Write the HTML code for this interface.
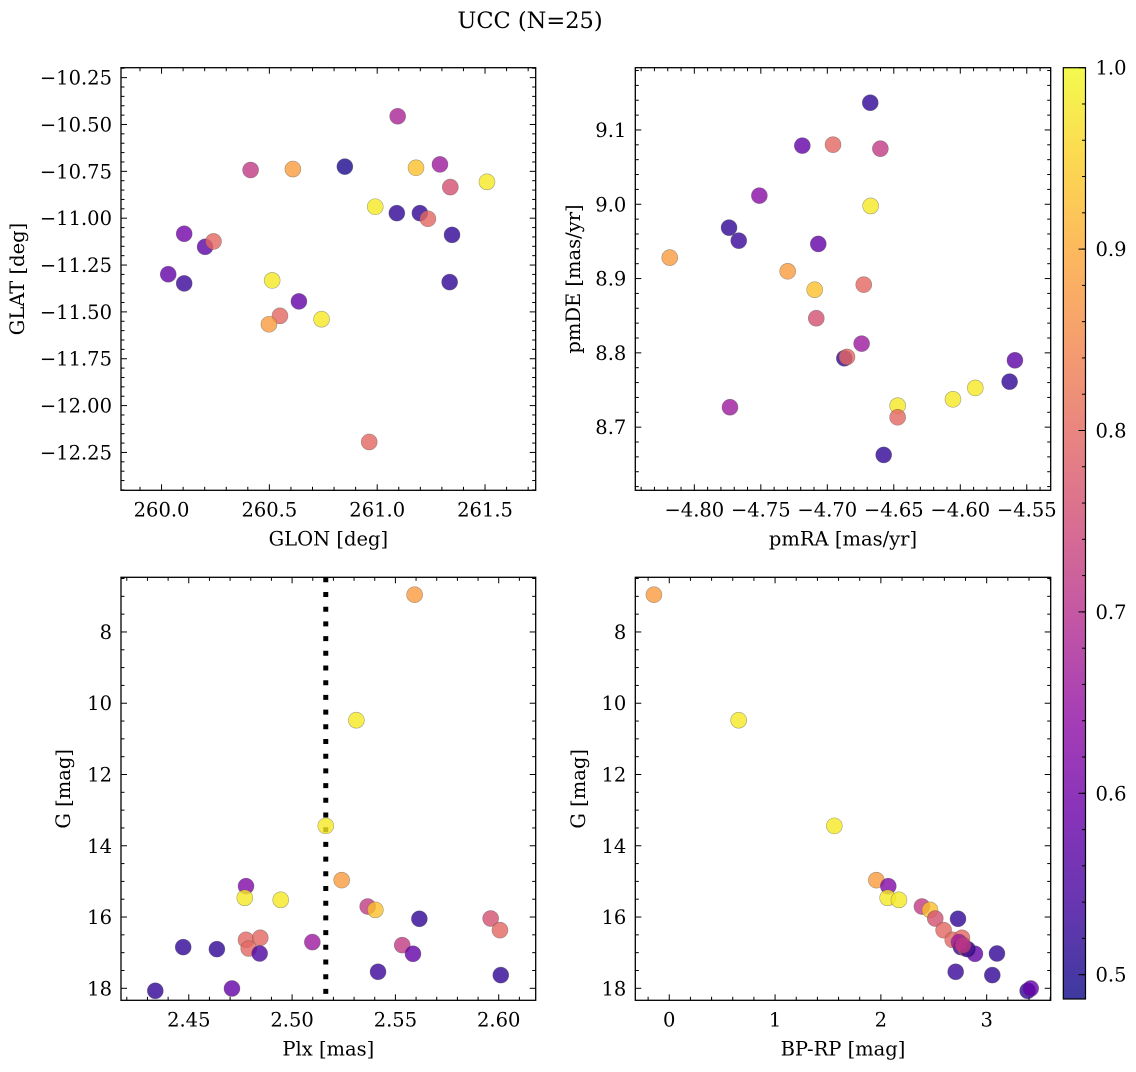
<!DOCTYPE html>
<html><head><meta charset="utf-8"><style>
html,body{margin:0;padding:0;background:#fff;}
svg text{font-family:"DejaVu Serif","Liberation Serif",serif;fill:#000;}
</style></head><body>
<svg id="fig" width="1136" height="1067" viewBox="0 0 1136 1067" xmlns="http://www.w3.org/2000/svg">
<defs>
<linearGradient id="plasma" x1="0" y1="1" x2="0" y2="0">
<stop offset="0" stop-color="#0d0887"/><stop offset="0.1" stop-color="#41049d"/><stop offset="0.2" stop-color="#6a00a8"/><stop offset="0.3" stop-color="#8f0da4"/><stop offset="0.4" stop-color="#b12a90"/><stop offset="0.5" stop-color="#cc4778"/><stop offset="0.6" stop-color="#e16462"/><stop offset="0.7" stop-color="#f2844b"/><stop offset="0.8" stop-color="#fca636"/><stop offset="0.9" stop-color="#fcce25"/><stop offset="1" stop-color="#f0f921"/>
</linearGradient>
</defs>
<text x="530" y="28" font-size="22.5" text-anchor="middle">UCC (N=25)</text>
</svg>
<script>
// Panel 1: GLON vs GLAT
const glon = [261.095,260.413,260.609,260.850,261.180,261.291,261.339,261.509,260.991,261.091,261.198,261.235,261.347,261.336,260.105,260.202,260.241,260.031,260.105,260.513,260.637,260.549,260.498,260.742,260.963];
const glat = [-10.456,-10.743,-10.738,-10.725,-10.731,-10.713,-10.834,-10.806,-10.939,-10.973,-10.973,-11.003,-11.089,-11.341,-11.083,-11.153,-11.124,-11.299,-11.348,-11.332,-11.444,-11.521,-11.566,-11.539,-12.194];
const c1 = [0.68,0.72,0.88,0.50,0.93,0.66,0.76,0.98,0.98,0.52,0.52,0.80,0.52,0.52,0.60,0.57,0.80,0.58,0.53,0.98,0.58,0.80,0.88,0.98,0.80];
// Panel 2: pmRA vs pmDE
const pmra = [-4.6677,-4.7188,-4.6957,-4.6601,-4.7511,-4.6674,-4.7739,-4.7666,-4.7068,-4.8185,-4.7298,-4.7095,-4.6726,-4.7083,-4.6742,-4.6872,-4.6852,-4.5589,-4.5629,-4.5887,-4.6055,-4.6471,-4.6471,-4.7732,-4.6576];
const pmde = [9.1367,9.0789,9.0802,9.0748,9.0116,8.9977,8.9685,8.951,8.9466,8.9282,8.9098,8.885,8.8918,8.8466,8.8124,8.7927,8.7945,8.79,8.7612,8.7528,8.7375,8.7289,8.7133,8.7268,8.6626];
const c2 = [0.52,0.58,0.80,0.72,0.63,0.98,0.52,0.53,0.58,0.88,0.88,0.93,0.80,0.76,0.66,0.52,0.80,0.57,0.52,0.98,0.98,0.98,0.80,0.66,0.52];
// Panel 3: Plx vs G
const plx = [2.5593,2.5311,2.5163,2.5240,2.4777,2.4771,2.4945,2.5366,2.5403,2.5616,2.5961,2.6006,2.4473,2.4636,2.4777,2.4846,2.4790,2.4843,2.5098,2.5533,2.5585,2.5416,2.6010,2.4338,2.4709];
const gmag = [6.954,10.477,13.442,14.965,15.134,15.461,15.518,15.705,15.798,16.05,16.042,16.369,16.845,16.901,16.64,16.583,16.883,17.023,16.704,16.789,17.032,17.537,17.63,18.07,18.005];
const c3 = [0.88,0.98,0.98,0.88,0.62,0.98,0.98,0.72,0.93,0.52,0.76,0.80,0.52,0.52,0.80,0.80,0.80,0.55,0.66,0.72,0.58,0.53,0.52,0.52,0.58];
const plxLine = [2.5163];
// Panel 4: BP-RP vs G
const bprp = [-0.145,0.656,1.560,1.957,2.070,2.064,2.171,2.388,2.464,2.729,2.514,2.593,2.707,3.053,3.097,2.889,2.679,2.766,2.757,2.801,2.820,2.738,2.776,3.387,3.416];
const gmag4 = [6.954,10.477,13.442,14.965,15.134,15.461,15.518,15.705,15.798,16.05,16.042,16.369,17.537,17.63,17.023,17.032,16.64,16.583,16.845,16.883,16.901,16.704,16.789,18.07,18.005];
const c4 = [0.88,0.98,0.98,0.88,0.62,0.98,0.98,0.72,0.93,0.52,0.76,0.80,0.53,0.52,0.52,0.58,0.80,0.80,0.52,0.80,0.52,0.66,0.72,0.52,0.58];
// colorbar
const cbTicks = [0.5,0.6,0.7,0.8,0.9,1.0];
const cMin = 0.4866, cMax = 1.0;

const NS = "http://www.w3.org/2000/svg";
const svg = document.getElementById('fig');
const stops = [[13,8,135],[65,4,157],[106,0,168],[143,13,164],[177,42,144],[204,71,120],[225,100,98],[242,132,75],[252,166,54],[252,206,37],[240,249,33]];
function plasma(v){
  let t = (v - cMin)/(cMax - cMin); t = Math.max(0, Math.min(1, t));
  const f = t*10, i = Math.min(9, Math.floor(f)), u = f - i;
  const a = stops[i], b = stops[i+1];
  return 'rgb(' + [0,1,2].map(k => Math.round(a[k] + (b[k]-a[k])*u)).join(',') + ')';
}
function mk(tag, attrs, parent){
  const e = document.createElementNS(NS, tag);
  for (const k in attrs) e.setAttribute(k, attrs[k]);
  (parent || svg).appendChild(e);
  return e;
}
function fmt(v, d){ const s = Math.abs(v).toFixed(d); return (v < -1e-9 ? '\u2212' : '') + s; }

function panel(cfg){
  const g = mk('g', {});
  
  
  const {x0,x1,y0,y1,xmin,xmax,ymin,ymax} = cfg;
  const sx = v => x0 + (v - xmin)/(xmax - xmin)*(x1 - x0);
  const sy = cfg.invert ? (v => y0 + (v - ymin)/(ymax - ymin)*(y1 - y0)) : (v => y1 - (v - ymin)/(ymax - ymin)*(y1 - y0));
  const tg = mk('g', {stroke:'#000','stroke-width':1}, g);
  const nMinX = Math.ceil(xmin/cfg.xminor - 1e-6), nMaxX = Math.floor(xmax/cfg.xminor + 1e-6);
  for (let n = nMinX; n <= nMaxX; n++){
    const v = n*cfg.xminor; const px = sx(v);
    const major = Math.abs(v/cfg.xmajor - Math.round(v/cfg.xmajor)) < 1e-6;
    const L = major ? 6 : 3.5;
    mk('line', {x1:px, x2:px, y1:y1, y2:y1-L}, tg);
    mk('line', {x1:px, x2:px, y1:y0, y2:y0+L}, tg);
    if (major){
      const t = mk('text', {x:px, y:y1+26, 'font-size':19.5, 'text-anchor':'middle', stroke:'none'}, g);
      
      
      t.textContent = fmt(v, cfg.xdec);
    }
  }
  const nMinY = Math.ceil(ymin/cfg.yminor - 1e-6), nMaxY = Math.floor(ymax/cfg.yminor + 1e-6);
  for (let n = nMinY; n <= nMaxY; n++){
    const v = n*cfg.yminor; const py = sy(v);
    const major = Math.abs(v/cfg.ymajor - Math.round(v/cfg.ymajor)) < 1e-6;
    const L = major ? 6 : 3.5;
    mk('line', {x1:x0, x2:x0+L, y1:py, y2:py}, tg);
    mk('line', {x1:x1, x2:x1-L, y1:py, y2:py}, tg);
    if (major){
      const t = mk('text', {x:x0-9, y:py+7, 'font-size':19.5, 'text-anchor':'end', stroke:'none'}, g);
      
      
      t.textContent = fmt(v, cfg.ydec);
    }
  }
  if (cfg.vline){
    cfg.vline.forEach(v => {
      const l = mk('line', {x1:sx(v), x2:sx(v), y1:y0, y2:y1, stroke:'#000', 'stroke-width':5, 'stroke-dasharray':'5 9.7'}, g);
      
      
    });
  }
  const pg = mk('g', {}, g);
  cfg.xs.forEach((xv, i) => {
    const p = mk('circle', {cx:sx(xv), cy:sy(cfg.ys[i]), r:8, fill:plasma(cfg.cs[i]), 'fill-opacity':0.8, stroke:'rgba(80,80,80,0.5)', 'stroke-width':0.6}, pg);
    
    
  });
  const fr = mk('rect', {x:x0, y:y0, width:x1-x0, height:y1-y0, fill:'none', stroke:'#000', 'stroke-width':1.3}, g);
  
  
  const xl = mk('text', {x:(x0+x1)/2, y:y1+55, 'font-size':19.5, 'text-anchor':'middle'}, g);
  
  
  xl.textContent = cfg.xlabel;
  const yl = mk('text', {x:0, y:0, 'font-size':19.5, 'text-anchor':'middle', transform:'translate(' + cfg.ylx + ',' + (y0+y1)/2 + ') rotate(-90)'}, g);
  
  
  yl.textContent = cfg.ylabel;
}

panel({name:'glon-glat-panel', x0:121, x1:535.7, y0:67.7, y1:490.3, xmin:259.812, xmax:261.735, ymin:-12.452, ymax:-10.197,
  xmajor:0.5, xminor:0.1, ymajor:0.25, yminor:0.05, xdec:1, ydec:2, xs:glon, ys:glat, cs:c1,
  xlabel:'GLON [deg]', ylabel:'GLAT [deg]', ylx:24});
panel({name:'proper-motion-panel', x0:635.3, x1:1050.7, y0:67.7, y1:490.3, xmin:-4.8444, xmax:-4.532, ymin:8.615, ymax:9.1838,
  xmajor:0.05, xminor:0.01, ymajor:0.1, yminor:0.02, xdec:2, ydec:1, xs:pmra, ys:pmde, cs:c2,
  xlabel:'pmRA [mas/yr]', ylabel:'pmDE [mas/yr]', ylx:580});
panel({name:'plx-g-panel', x0:121, x1:535.7, y0:577.3, y1:1000.3, xmin:2.4172, xmax:2.6179, ymin:6.466, ymax:18.337, invert:true,
  xmajor:0.05, xminor:0.01, ymajor:2, yminor:0.5, xdec:2, ydec:0, xs:plx, ys:gmag, cs:c3, vline:plxLine,
  xlabel:'Plx [mas]', ylabel:'G [mag]', ylx:70});
panel({name:'cmd-panel', x0:635.3, x1:1050.7, y0:577.3, y1:1000.3, xmin:-0.321, xmax:3.605, ymin:6.466, ymax:18.337, invert:true,
  xmajor:1, xminor:0.2, ymajor:2, yminor:0.5, xdec:0, ydec:0, xs:bprp, ys:gmag4, cs:c4,
  xlabel:'BP-RP [mag]', ylabel:'G [mag]', ylx:585});

(function(){
  const g = mk('g', {});
  
  
  const cx0 = 1063.3, cx1 = 1085.5, cy0 = 67.7, cy1 = 999;
  const cy = v => cy1 - (v - cMin)/(cMax - cMin)*(cy1 - cy0);
  mk('rect', {x:cx0, y:cy0, width:cx1-cx0, height:cy1-cy0, fill:'url(#plasma)', 'fill-opacity':0.8}, g);
  for (let n = Math.ceil(cMin/0.02); n <= Math.floor(cMax/0.02 + 1e-6); n++){
    const v = n*0.02;
    mk('line', {x1:cx1, x2:cx1-3.5, y1:cy(v), y2:cy(v), stroke:'#000', 'stroke-width':1}, g);
  }
  cbTicks.forEach(v => {
    mk('line', {x1:cx1, x2:cx1-7, y1:cy(v), y2:cy(v), stroke:'#000', 'stroke-width':1}, g);
    const t = mk('text', {x:cx1+10, y:cy(v)+7, 'font-size':19.5}, g);
    
    
    t.textContent = v.toFixed(1);
  });
  mk('rect', {x:cx0, y:cy0, width:cx1-cx0, height:cy1-cy0, fill:'none', stroke:'#000', 'stroke-width':1.2}, g);
})();
</script>
</body></html>
